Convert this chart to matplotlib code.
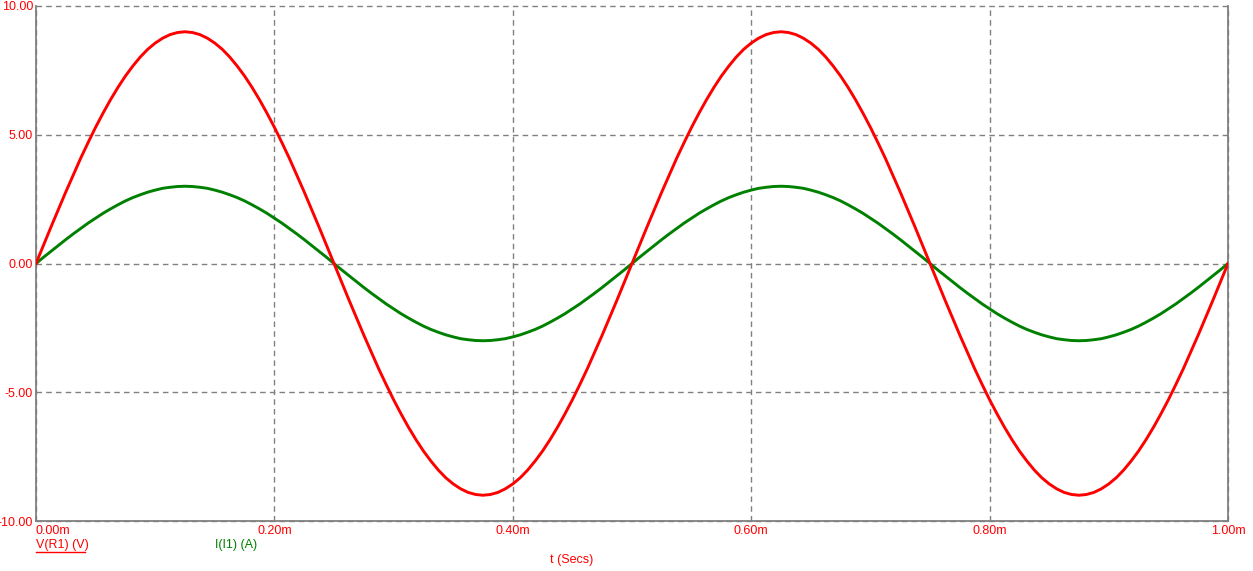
import numpy as np
import matplotlib
matplotlib.use("Agg")
import matplotlib.pyplot as plt

# sample times in ms (0 .. 1.00m, step 0.00625m)
t_ms = np.linspace(0.0, 1.0, 161)

# V(R1) in volts
v_r1 = [0.00, 0.71, 1.41, 2.10, 2.78, 3.44, 4.09, 4.70, 5.29, 5.84, 6.36, 6.84, 7.28, 7.67, 8.02, 8.32, 8.56, 8.75, 8.89, 8.97,
        9.00, 8.97, 8.89, 8.75, 8.56, 8.32, 8.02, 7.67, 7.28, 6.84, 6.36, 5.84, 5.29, 4.70, 4.09, 3.44, 2.78, 2.10, 1.41, 0.71,
        0.00, -0.71, -1.41, -2.10, -2.78, -3.44, -4.09, -4.70, -5.29, -5.84, -6.36, -6.84, -7.28, -7.67, -8.02, -8.32, -8.56, -8.75, -8.89, -8.97,
        -9.00, -8.97, -8.89, -8.75, -8.56, -8.32, -8.02, -7.67, -7.28, -6.84, -6.36, -5.84, -5.29, -4.70, -4.09, -3.44, -2.78, -2.10, -1.41, -0.71,
        0.00, 0.71, 1.41, 2.10, 2.78, 3.44, 4.09, 4.70, 5.29, 5.84, 6.36, 6.84, 7.28, 7.67, 8.02, 8.32, 8.56, 8.75, 8.89, 8.97,
        9.00, 8.97, 8.89, 8.75, 8.56, 8.32, 8.02, 7.67, 7.28, 6.84, 6.36, 5.84, 5.29, 4.70, 4.09, 3.44, 2.78, 2.10, 1.41, 0.71,
        0.00, -0.71, -1.41, -2.10, -2.78, -3.44, -4.09, -4.70, -5.29, -5.84, -6.36, -6.84, -7.28, -7.67, -8.02, -8.32, -8.56, -8.75, -8.89, -8.97,
        -9.00, -8.97, -8.89, -8.75, -8.56, -8.32, -8.02, -7.67, -7.28, -6.84, -6.36, -5.84, -5.29, -4.70, -4.09, -3.44, -2.78, -2.10, -1.41, -0.71,
        0.00]

# I(I1) in amps
i_i1 = [0.00, 0.24, 0.47, 0.70, 0.93, 1.15, 1.36, 1.57, 1.76, 1.95, 2.12, 2.28, 2.43, 2.56, 2.67, 2.77, 2.85, 2.92, 2.96, 2.99,
        3.00, 2.99, 2.96, 2.92, 2.85, 2.77, 2.67, 2.56, 2.43, 2.28, 2.12, 1.95, 1.76, 1.57, 1.36, 1.15, 0.93, 0.70, 0.47, 0.24,
        0.00, -0.24, -0.47, -0.70, -0.93, -1.15, -1.36, -1.57, -1.76, -1.95, -2.12, -2.28, -2.43, -2.56, -2.67, -2.77, -2.85, -2.92, -2.96, -2.99,
        -3.00, -2.99, -2.96, -2.92, -2.85, -2.77, -2.67, -2.56, -2.43, -2.28, -2.12, -1.95, -1.76, -1.57, -1.36, -1.15, -0.93, -0.70, -0.47, -0.24,
        0.00, 0.24, 0.47, 0.70, 0.93, 1.15, 1.36, 1.57, 1.76, 1.95, 2.12, 2.28, 2.43, 2.56, 2.67, 2.77, 2.85, 2.92, 2.96, 2.99,
        3.00, 2.99, 2.96, 2.92, 2.85, 2.77, 2.67, 2.56, 2.43, 2.28, 2.12, 1.95, 1.76, 1.57, 1.36, 1.15, 0.93, 0.70, 0.47, 0.24,
        0.00, -0.24, -0.47, -0.70, -0.93, -1.15, -1.36, -1.57, -1.76, -1.95, -2.12, -2.28, -2.43, -2.56, -2.67, -2.77, -2.85, -2.92, -2.96, -2.99,
        -3.00, -2.99, -2.96, -2.92, -2.85, -2.77, -2.67, -2.56, -2.43, -2.28, -2.12, -1.95, -1.76, -1.57, -1.36, -1.15, -0.93, -0.70, -0.47, -0.24,
        0.00]

x_ticks = [0.0, 0.2, 0.4, 0.6, 0.8, 1.0]
x_labels = ["0.00m", "0.20m", "0.40m", "0.60m", "0.80m", "1.00m"]
y_ticks = [-10, -5, 0, 5, 10]
y_labels = ["-10.00", "-5.00", "0.00", "5.00", "10.00"]

plt.rcParams["font.family"] = ["Liberation Sans", "DejaVu Sans"]

fig = plt.figure(figsize=(12.53, 5.71), dpi=100)
ax = fig.add_axes([36 / 1253, 50 / 571, (1228 - 36) / 1253, (521 - 6) / 571])

red = "#ff0000"
green = "#008000"
grey = "#808080"

ax.plot(t_ms, i_i1, color=green, linewidth=2.1, zorder=3)
ax.plot(t_ms, v_r1, color=red, linewidth=2.1, zorder=4)

ax.set_xlim(0, 1.0)
ax.set_ylim(-10, 10)
ax.set_xticks(x_ticks)
ax.set_xticklabels(x_labels)
ax.set_yticks(y_ticks)
ax.set_yticklabels(y_labels)
ax.tick_params(length=0, labelsize=9, labelcolor=red)
ax.tick_params(axis="y", pad=2)
ax.tick_params(axis="x", pad=3)
ax.get_xticklabels()[0].set_horizontalalignment("left")

ax.grid(True, color=grey, linestyle=(0, (4, 3)), linewidth=1.0)
for gl in ax.get_xgridlines() + ax.get_ygridlines():
    gl.set_clip_on(False)

for side in ["left", "bottom", "right"]:
    ax.spines[side].set_color(grey)
    ax.spines[side].set_linewidth(1.3)
ax.spines["top"].set_visible(False)

# trace names and axis title under the plot
fig.text(36 / 1253, 1 - 545 / 571, "V(R1) (V)", color=red, fontsize=9,
         ha="left", va="center")
fig.add_artist(plt.Line2D([36 / 1253, 85 / 1253], [1 - 552 / 571, 1 - 552 / 571],
                          color=red, linewidth=1.0))
fig.text(215 / 1253, 1 - 545 / 571, "I(I1) (A)", color=green, fontsize=9,
         ha="left", va="center")
fig.text(572 / 1253, 1 - 560 / 571, "t (Secs)", color=red, fontsize=9,
         ha="center", va="center")

fig.savefig("out.png", dpi=100)
plt.close(fig)
